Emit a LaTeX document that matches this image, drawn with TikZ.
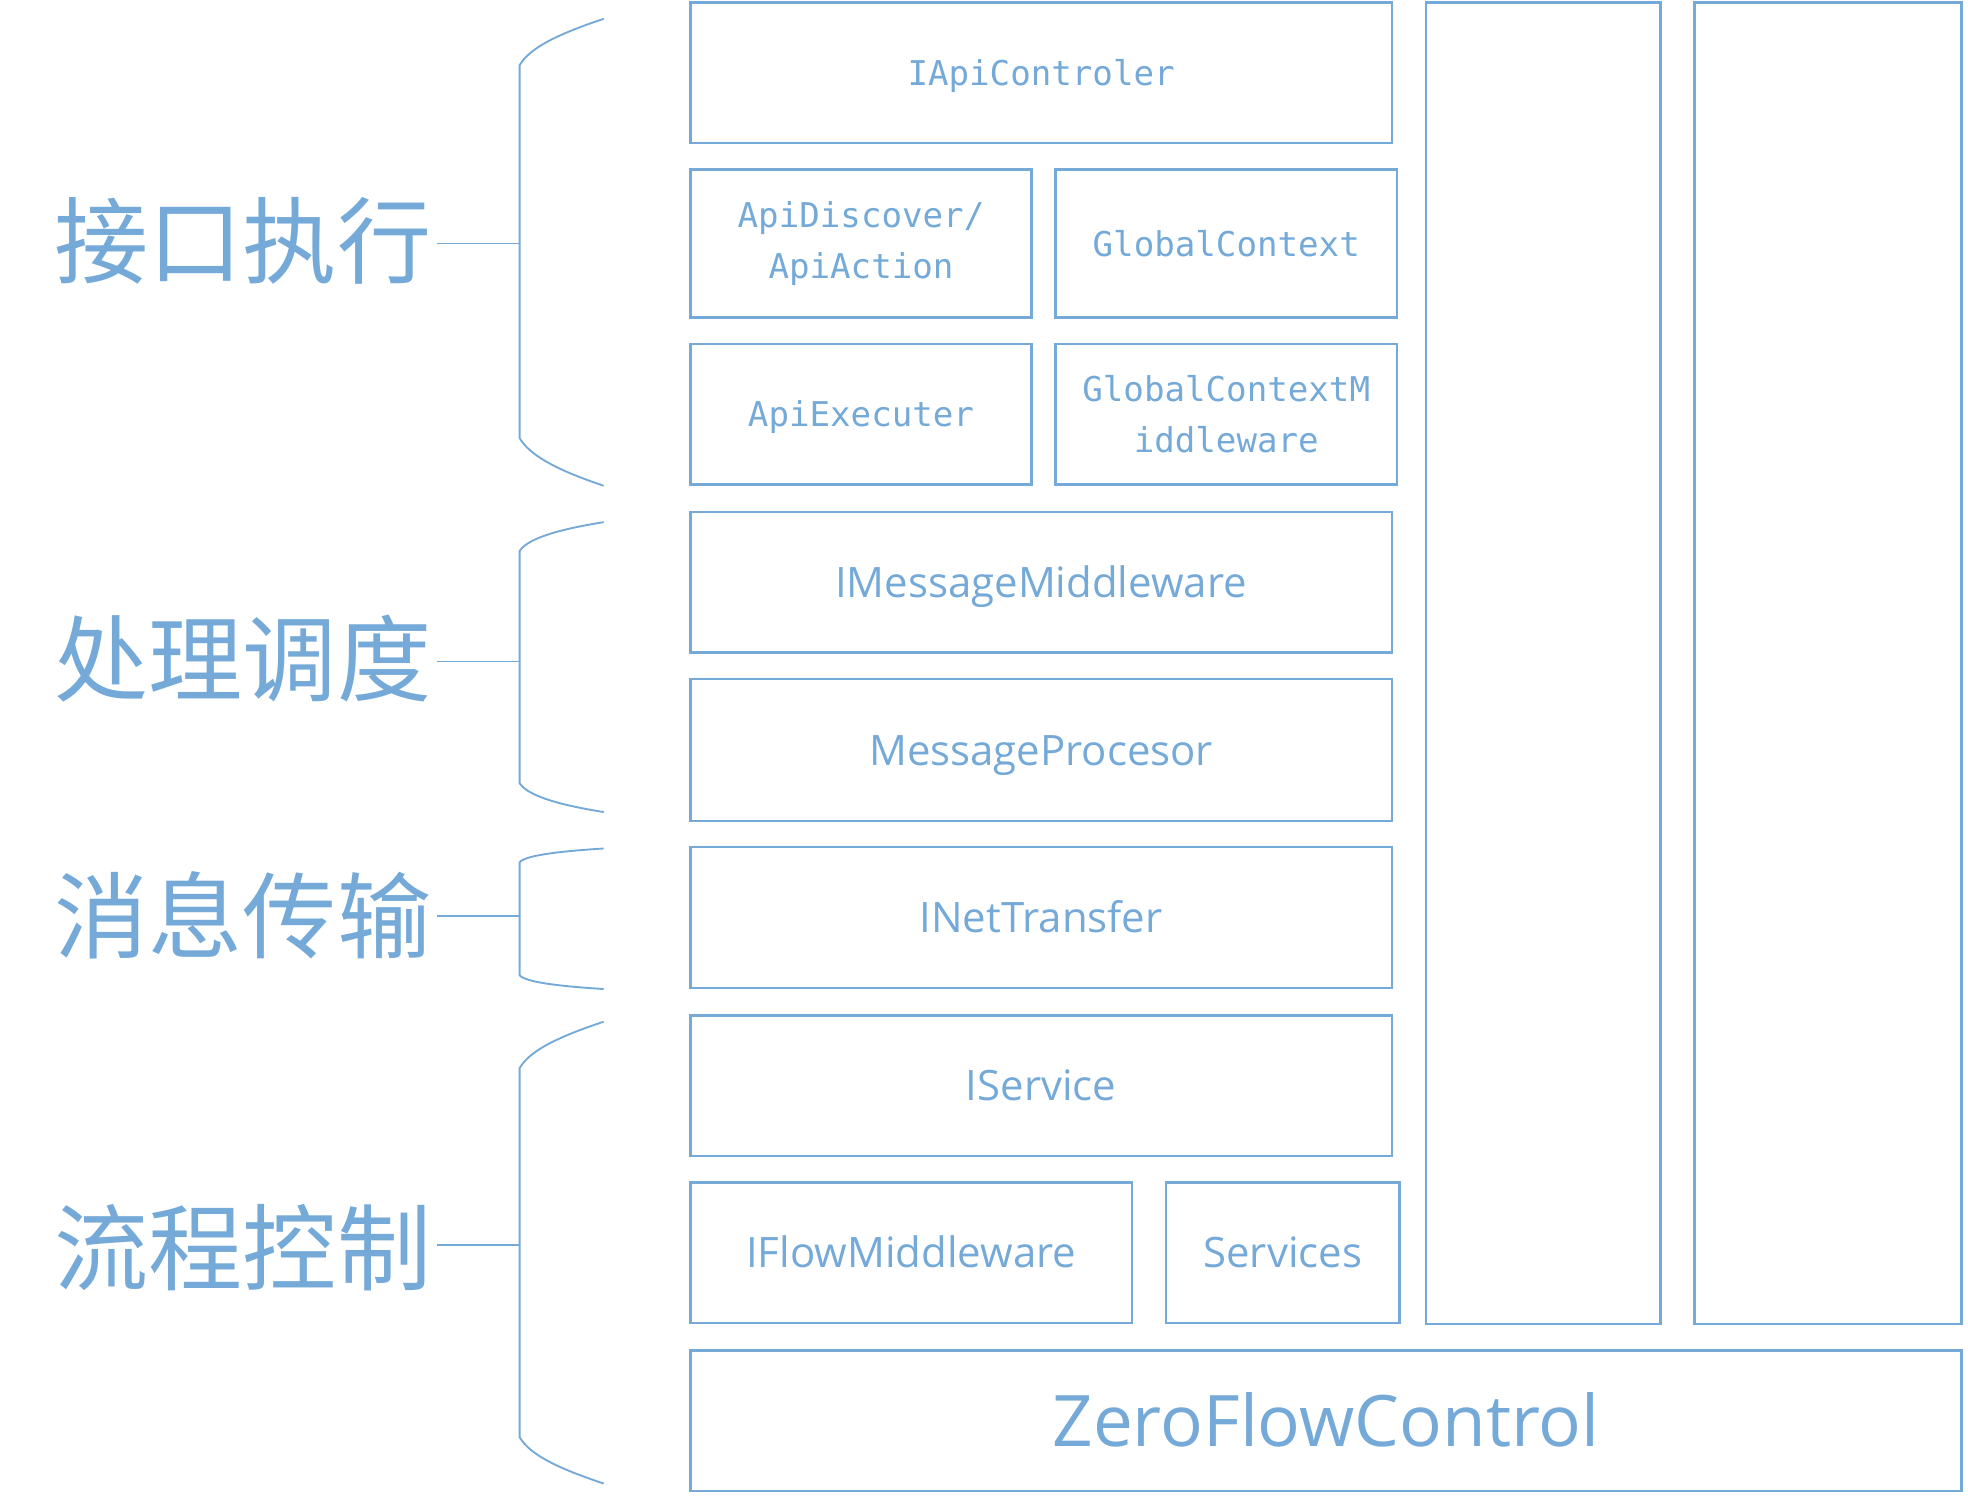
\documentclass[tikz,border=0pt]{standalone}
\usepackage{fontspec}
\setmainfont{Open Sans}
\newfontfamily\cjkfont{Noto Sans CJK SC}
\newfontfamily\monofont{DejaVu Sans Mono}
\definecolor{zblue}{RGB}{116,169,216}
\tikzset{
  box/.style={draw=zblue, line width=1pt, rectangle, inner sep=0pt, text=zblue, align=center},
  monotxt/.style={font=\monofont\fontsize{13.6pt}{20.5pt}\selectfont},
  monoone/.style={monotxt, text height=10pt, text depth=0pt},
  sanstxt/.style={font=\fontsize{16.7pt}{20pt}\selectfont, text height=12pt, text depth=0pt},
  bigtxt/.style={font=\fontsize{28.3pt}{34pt}\selectfont, text height=20.4pt, text depth=0pt},
  lab/.style={text=zblue, inner sep=2pt, font=\cjkfont\fontsize{37.5pt}{40pt}\selectfont},
  brace/.style={draw=zblue, line width=0.75pt},
}
\begin{document}
\begin{tikzpicture}[x=0.5pt, y=-0.5pt]
\useasboundingbox (0,0) rectangle (1568,1201);
% boxes
\node[box, monoone, minimum width=279.5pt, minimum height=56pt] (iapi) at (829.5,58) {IApiControler};
\node[box, monotxt, minimum width=136pt, minimum height=59pt] (disc) at (686,194) {ApiDiscover/\\ApiAction};
\node[box, monoone, minimum width=136pt, minimum height=59pt] (gctx) at (977,194) {GlobalContext};
\node[box, monoone, minimum width=136pt, minimum height=56pt] (exec) at (686,330) {ApiExecuter};
\node[box, monotxt, minimum width=136pt, minimum height=56pt] (gcmw) at (977,330) {GlobalContextM\\iddleware};
\node[box, sanstxt, minimum width=279.5pt, minimum height=56pt] (imsg) at (829.5,464) {IMessageMiddleware};
\node[box, sanstxt, minimum width=279.5pt, minimum height=56.5pt] (mproc) at (829.5,597.5) {MessageProcesor};
\node[box, sanstxt, minimum width=279.5pt, minimum height=56pt] (inet) at (829.5,731) {INetTransfer};
\node[box, sanstxt, minimum width=279.5pt, minimum height=56pt] (iserv) at (829.5,865) {IService};
\node[box, sanstxt, minimum width=176pt, minimum height=56pt] (iflow) at (726,998) {IFlowMiddleware};
\node[box, sanstxt, minimum width=93pt, minimum height=56pt] (servs) at (1022,998) {Services};
\node[box, minimum width=93.5pt, minimum height=526.5pt] (col1) at (1229.5,528.5) {};
\node[box, minimum width=106.5pt, minimum height=526.5pt] (col2) at (1456.5,528.5) {};
\node[box, bigtxt, minimum width=506.5pt, minimum height=56pt] (zfc) at (1056.5,1132) {ZeroFlowControl};
% labels
\node[lab, anchor=east] (l1) at (348,192) {接口执行};
\node[lab, anchor=east] (l2) at (348,525) {处理调度};
\node[lab, anchor=east] (l3) at (348,729) {消息传输};
\node[lab, anchor=east] (l4) at (348,994) {流程控制};
% brace points
\coordinate (b1) at (414,194);
\coordinate (b2) at (414,527);
\coordinate (b3) at (414,730);
\coordinate (b4) at (414,992);
% braces
\draw[brace] (481,15) .. controls (445,27) and (422,38) .. (414,52) -- (414,349) .. controls (422,363) and (445,375) .. (481,387);
\draw[brace] (481,416) .. controls (450,421) and (421,428) .. (414,439) -- (414,624) .. controls (421,635) and (450,642) .. (481,647);
\draw[brace] (481,676) .. controls (450,678) and (419,681) .. (414,687) -- (414,777) .. controls (419,783) and (450,786) .. (481,788);
\draw[brace] (481,814) .. controls (445,826) and (422,837) .. (414,851) -- (414,1145) .. controls (422,1159) and (445,1170) .. (481,1182);
% ticks
\draw[brace] (l1.east |- b1) -- (b1);
\draw[brace] (l2.east |- b2) -- (b2);
\draw[brace] (l3.east |- b3) -- (b3);
\draw[brace] (l4.east |- b4) -- (b4);
\end{tikzpicture}
\end{document}
